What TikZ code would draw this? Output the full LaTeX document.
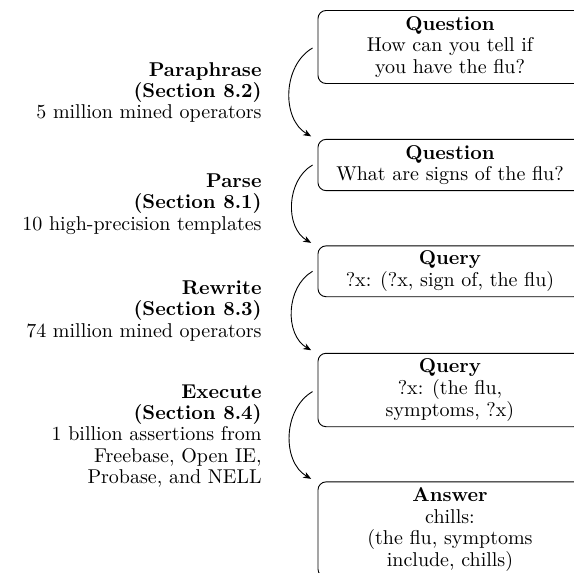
\documentclass[tikz,border=0pt]{standalone}
\usetikzlibrary{arrows.meta}
\begin{document}
\begin{tikzpicture}[x=0.5pt,y=-0.5pt,
  stage/.style={draw, line width=0.45pt, rounded corners=4pt, minimum width=132pt,
    inner xsep=3pt, inner ysep=2pt, align=center,
    font=\fontsize{10}{10.8}\selectfont},
  lbl/.style={anchor=east, inner sep=0pt, align=right,
    font=\fontsize{10}{10.65}\selectfont},
  flow/.style={draw, line width=0.45pt, -{Stealth[length=4pt,width=3.2pt]}, out=210, in=150}]
\useasboundingbox (0,0) rectangle (574,573);
\clip (0,0) rectangle (574,573);

\node[stage, minimum height=36.5pt] (b1) at (450,47)
  {\textbf{Question}\\How can you tell if\\you have the flu?};
\node[stage, minimum height=25.6pt] (b2) at (450,165)
  {\textbf{Question}\\What are signs of the flu?};
\node[stage, minimum height=25.4pt] (b3) at (450,271.3)
  {\textbf{Query}\\?x: (?x, sign of, the flu)};
\node[stage, minimum height=36.7pt] (b4) at (450,390)
  {\textbf{Query}\\?x: (the flu,\\symptoms, ?x)};
\node[stage, minimum height=47.6pt] (b5) at (450,529.5)
  {\textbf{Answer}\\chills:\\(the flu, symptoms\\include, chills)};

\draw[flow] ([xshift=-2.5pt,yshift=-0.5pt]b1.west) to ([xshift=-3.2pt,yshift=1.3pt]b2.north west);
\draw[flow] ([xshift=-2.5pt]b2.west) to ([xshift=-3.2pt,yshift=1.3pt]b3.north west);
\draw[flow] ([xshift=-2.5pt]b3.west) to ([xshift=-3.2pt,yshift=1.3pt]b4.north west);
\draw[flow] ([xshift=-2.5pt,yshift=-0.8pt]b4.west) to ([xshift=-3.2pt,yshift=1.3pt]b5.north west);

\node[lbl] (l1) at (262,92.5)
  {\textbf{Paraphrase}\\\textbf{(Section 8.2)}\\5 million mined operators};
\node[lbl] (l2) at (262,204)
  {\textbf{Parse}\\\textbf{(Section 8.1)}\\10 high-precision templates};
\node[lbl] (l3) at (262,311)
  {\textbf{Rewrite}\\\textbf{(Section 8.3)}\\74 million mined operators};
\node[lbl] (l4) at (262,436)
  {\textbf{Execute}\\\textbf{(Section 8.4)}\\1 billion assertions from\\Freebase, Open IE,\\Probase, and NELL};
\end{tikzpicture}
\end{document}
